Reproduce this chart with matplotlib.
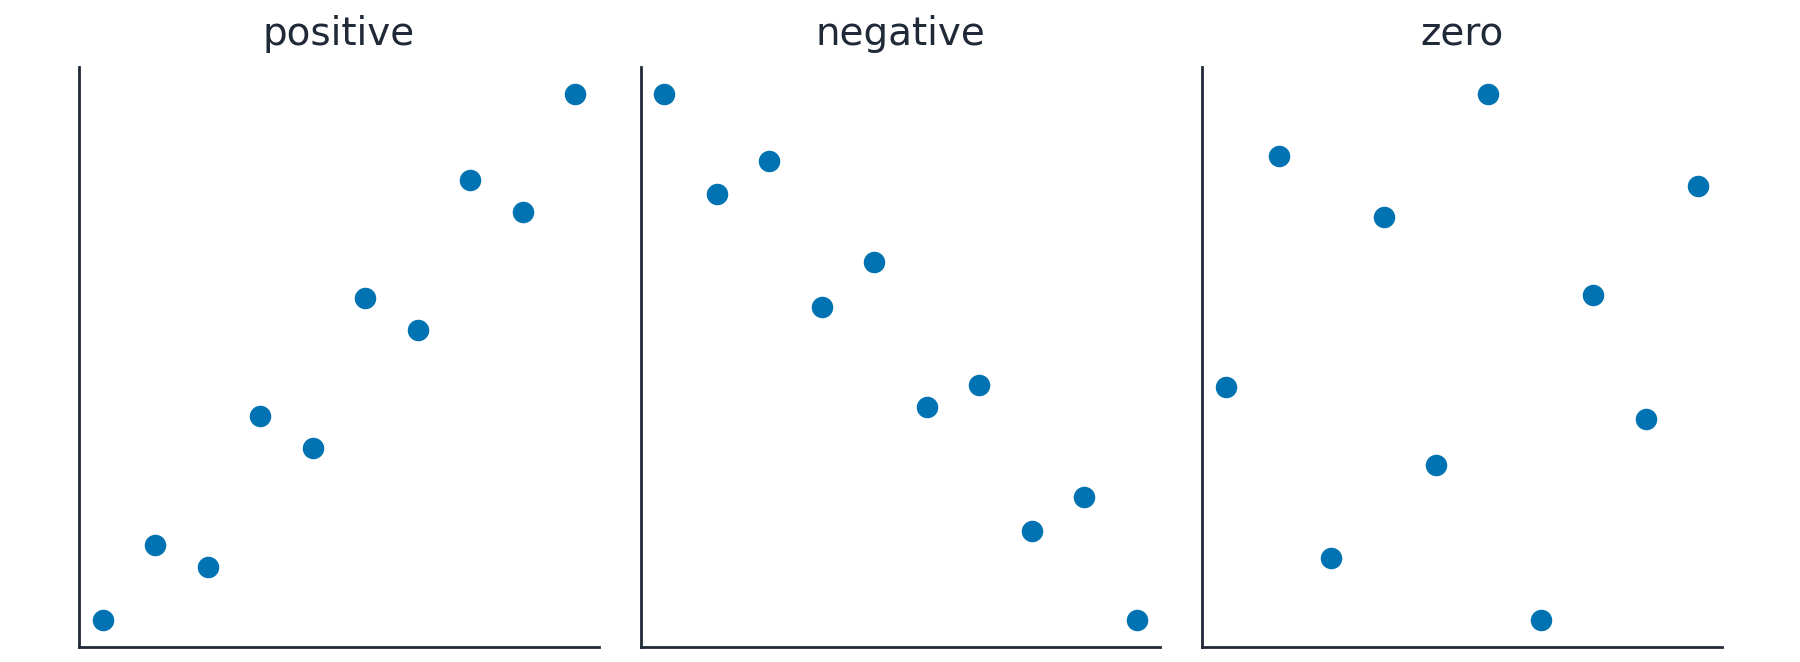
import numpy as np
import matplotlib
matplotlib.use("Agg")
import matplotlib.pyplot as plt

# data (x is just the index 0..9)
titles = ["positive", "negative", "zero"]
x = np.arange(10)
positive = [0.0, 1.29, 0.92, 3.49, 2.94, 5.51, 4.96, 7.53, 6.98, 9.0]
negative = [9.0, 7.28, 7.85, 5.36, 6.13, 3.64, 4.02, 1.53, 2.11, 0.0]
zero = [3.98, 7.94, 1.06, 6.89, 2.65, 9.0, 0.0, 5.56, 3.44, 7.42]

dot_color = "#0173b2"
ink = "#1f2937"

fig, axes = plt.subplots(1, 3, figsize=(9, 3.31), dpi=200)
fig.subplots_adjust(left=0.0439, right=0.9567, bottom=0.0231, top=0.8983, wspace=0.081)

for ax, title, y in zip(axes, titles, [positive, negative, zero]):
    ax.scatter(x, y, s=60, color=dot_color, linewidths=0)
    ax.set_title(title, fontsize=14, color=ink, pad=8)
    ax.set_xticks([])
    ax.set_yticks([])
    for side in ["top", "right"]:
        ax.spines[side].set_visible(False)
    for side in ["left", "bottom"]:
        ax.spines[side].set_color(ink)
        ax.spines[side].set_linewidth(1.0)

fig.savefig("out.png", dpi=200, facecolor="white")
